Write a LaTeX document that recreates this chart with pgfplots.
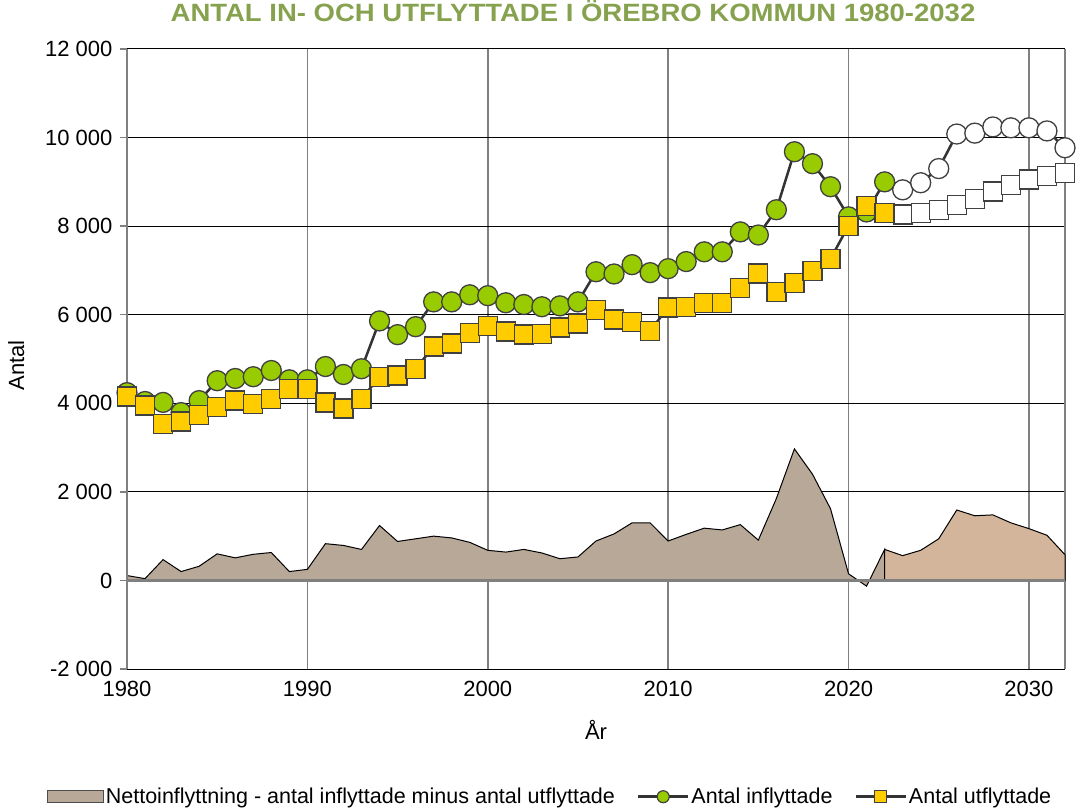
\documentclass[border=0pt]{standalone}
\usepackage{pgfplots}
\pgfplotsset{compat=1.18}
\usepackage{pgfplotstable}
\usepackage{fontspec}
\setmainfont{Liberation Sans}
\newfontfamily\titlefont[FakeStretch=1.1]{Liberation Sans}
\definecolor{ingreen}{HTML}{99CC00}
\definecolor{outyellow}{HTML}{FFCC00}
\definecolor{mkline}{HTML}{404040}
\definecolor{linegray}{HTML}{333333}
\definecolor{areahist}{HTML}{B8A898}
\definecolor{areaproj}{HTML}{D3B59C}
\definecolor{titlegreen}{HTML}{87A24F}
\definecolor{gridgray}{HTML}{808080}

\pgfplotstableread{
year val
1980 4240
1981 4040
1982 4020
1983 3790
1984 4060
1985 4510
1986 4560
1987 4600
1988 4740
1989 4530
1990 4530
1991 4830
1992 4650
1993 4780
1994 5860
1995 5550
1996 5730
1997 6290
1998 6290
1999 6450
2000 6430
2001 6270
2002 6230
2003 6180
2004 6200
2005 6290
2006 6970
2007 6920
2008 7130
2009 6950
2010 7040
2011 7200
2012 7420
2013 7420
2014 7870
2015 7800
2016 8370
2017 9680
2018 9410
2019 8890
2020 8210
2021 8320
2022 9000
}\inhist

\pgfplotstableread{
year val
1980 4150
1981 3950
1982 3540
1983 3590
1984 3740
1985 3920
1986 4060
1987 3990
1988 4100
1989 4330
1990 4330
1991 4020
1992 3880
1993 4100
1994 4600
1995 4630
1996 4780
1997 5280
1998 5350
1999 5590
2000 5750
2001 5620
2002 5550
2003 5570
2004 5710
2005 5800
2006 6110
2007 5890
2008 5840
2009 5640
2010 6160
2011 6180
2012 6270
2013 6270
2014 6610
2015 6930
2016 6520
2017 6720
2018 6990
2019 7260
2020 8010
2021 8460
2022 8300
}\outhist

\pgfplotstableread{
year val
2022 9000
2023 8820
2024 8980
2025 9300
2026 10080
2027 10100
2028 10240
2029 10220
2030 10220
2031 10150
2032 9770
}\inproj

\pgfplotstableread{
year val
2022 8300
2023 8260
2024 8300
2025 8370
2026 8480
2027 8620
2028 8780
2029 8930
2030 9050
2031 9140
2032 9200
}\outproj

\pgfplotstableread{
year val
1980 110
1981 40
1982 470
1983 200
1984 320
1985 600
1986 510
1987 590
1988 630
1989 200
1990 250
1991 830
1992 790
1993 700
1994 1240
1995 880
1996 940
1997 1000
1998 960
1999 860
2000 680
2001 640
2002 700
2003 620
2004 490
2005 530
2006 890
2007 1050
2008 1300
2009 1300
2010 890
2011 1040
2012 1180
2013 1140
2014 1260
2015 910
2016 1850
2017 2970
2018 2400
2019 1620
2020 150
2021 -130
2022 700
}\nethist

\pgfplotstableread{
year val
2022 700
2023 560
2024 680
2025 940
2026 1590
2027 1460
2028 1480
2029 1300
2030 1170
2031 1020
2032 580
}\netproj

\begin{document}
\begin{tikzpicture}
\path[use as bounding box] (-127pt,-142pt) rectangle (949pt,669pt);
\begin{axis}[
  at={(0pt,0pt)}, anchor=south west,
  scale only axis,
  width=938pt, height=620pt,
  xmin=1980, xmax=2032,
  ymin=-2000, ymax=12000,
  scaled y ticks=false,
  scaled x ticks=false,
  xtick={1980,1990,2000,2010,2020,2030},
  xticklabels={1980,1990,2000,2010,2020,2030},
  ytick={-2000,0,2000,4000,6000,8000,10000,12000},
  yticklabels={-2 000,0,2 000,4 000,6 000,8 000,10 000,12 000},
  extra x ticks={2032},
  extra x tick labels={},
  extra x tick style={grid=major, major grid style={draw=gridgray, line width=1.5pt}},
  grid=major,
  x grid style={draw=gridgray, line width=1.5pt},
  y grid style={draw=black, line width=1pt},
  axis line style={draw=none},
  xtick style={draw=none},
  ytick style={draw=gridgray, line width=1.5pt},
  tick align=outside,
  major tick length=7pt,
  ytick pos=left,
  xtick pos=bottom,
  ticklabel style={font=\fontsize{22}{26}\selectfont},
  yticklabel style={xshift=-4pt},
  xticklabel style={yshift=-2pt},
  xlabel={År},
  ylabel={Antal},
  xlabel style={font=\fontsize{22}{26}\selectfont, at={(axis description cs:0.5,-0.098)}, anchor=center},
  ylabel style={font=\fontsize{22}{26}\selectfont, at={(axis description cs:-0.118,0.49)}, anchor=center},
  title={ANTAL IN- OCH UTFLYTTADE I ÖREBRO KOMMUN 1980-2032},
  title style={font=\titlefont\bfseries\fontsize{25}{30}\selectfont, text=titlegreen, at={(axis description cs:0.4755,1.052)}, anchor=center},
  legend columns=3,
  legend style={at={(axis description cs:0.451,-0.206)}, anchor=center, draw=none, fill=none,
    font=\fontsize{21.5}{26}\selectfont,
    /tikz/every even column/.append style={column sep=20pt},
    inner sep=0pt},
  clip=false,
]
% net migration areas
\addplot[fill=areahist, draw=black, line width=1pt,
  legend image code/.code={\draw[fill=areahist, draw=black!70, line width=1pt] (0pt,-6pt) rectangle (56pt,6pt);}]
  table[x=year,y=val] {\nethist} \closedcycle;
\addlegendentry{Nettoinflyttning - antal inflyttade minus antal utflyttade}
\addplot[fill=areaproj, draw=black, line width=1pt, forget plot]
  table[x=year,y=val] {\netproj} \closedcycle;
% zero axis line and left axis line
\addplot[draw=gridgray, line width=2.5pt, forget plot] coordinates {(1980,0) (2032,0)};
\addplot[draw=gridgray, line width=2pt, forget plot] coordinates {(1980,-2000) (1980,12000)};
% inflyttade
\addplot[linegray, line width=2.5pt, mark=*, mark size=10pt, mark indices={2,3,4,5,6,7,8,9,10,11},
  mark options={fill=white, draw=mkline, line width=1.3pt}, forget plot]
  table[x=year,y=val] {\inproj};
\addplot[linegray, line width=2.5pt, mark=*, mark size=10pt,
  mark options={fill=ingreen, draw=mkline, line width=1.3pt},
  legend image code/.code={\draw[linegray, line width=2.5pt] (0pt,0pt) -- (50pt,0pt); \draw[fill=ingreen, draw=mkline, line width=1.2pt] (25pt,0pt) circle (6pt);}]
  table[x=year,y=val] {\inhist};
\addlegendentry{Antal inflyttade}
% utflyttade
\addplot[linegray, line width=2.5pt, mark=square*, mark size=9.5pt, mark indices={2,3,4,5,6,7,8,9,10,11},
  mark options={fill=white, draw=mkline, line width=1.3pt}, forget plot]
  table[x=year,y=val] {\outproj};
\addplot[linegray, line width=2.5pt, mark=square*, mark size=9.5pt,
  mark options={fill=outyellow, draw=mkline, line width=1.3pt},
  legend image code/.code={\draw[linegray, line width=2.5pt] (0pt,0pt) -- (50pt,0pt); \draw[fill=outyellow, draw=mkline, line width=1.2pt] (19pt,-6pt) rectangle (31pt,6pt);}]
  table[x=year,y=val] {\outhist};
\addlegendentry{Antal utflyttade}
\end{axis}
\end{tikzpicture}
\end{document}
